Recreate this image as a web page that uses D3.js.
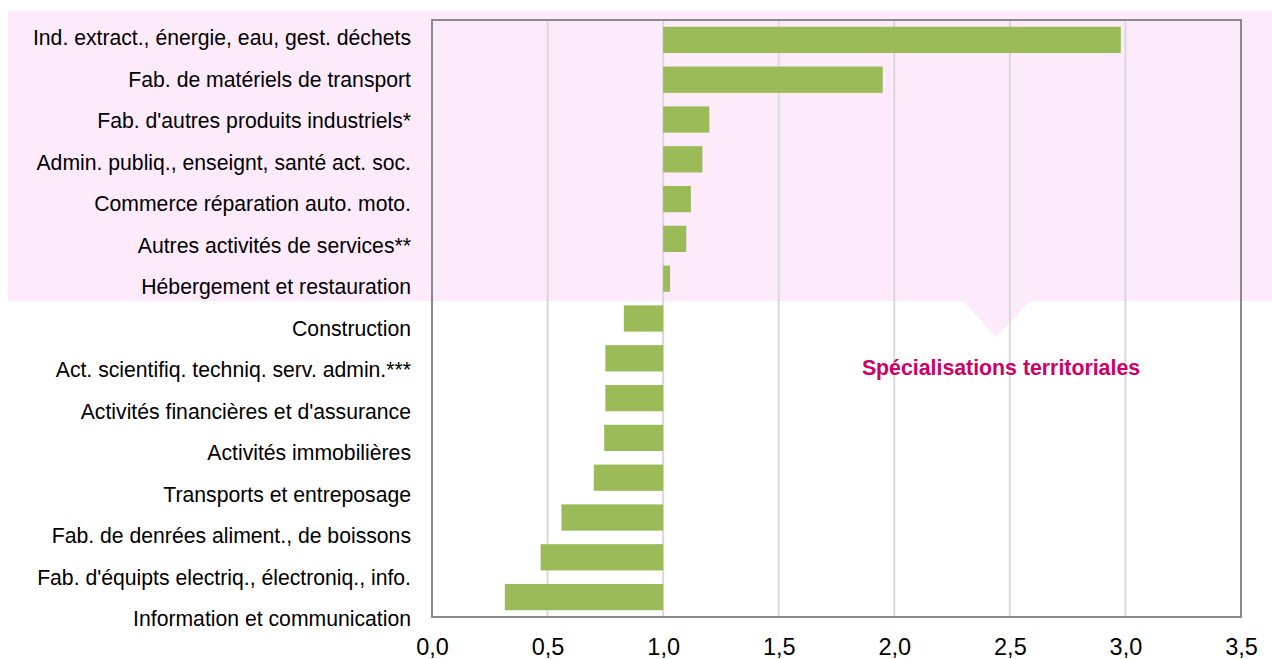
<!DOCTYPE html>
<html><head><meta charset="utf-8">
<script src="https://cdn.jsdelivr.net/npm/d3@7"></script>
<style>body{margin:0;background:#fff}svg{display:block}</style>
</head><body>
<svg id="c" width="1272" height="659"></svg>
<script>
const categories = [
  "Ind. extract., énergie, eau, gest. déchets",
  "Fab. de matériels de transport",
  "Fab. d'autres produits industriels*",
  "Admin. publiq., enseignt, santé act. soc.",
  "Commerce réparation auto. moto.",
  "Autres activités de services**",
  "Hébergement et restauration",
  "Construction",
  "Act. scientifiq. techniq. serv. admin.***",
  "Activités financières et d'assurance",
  "Activités immobilières",
  "Transports et entreposage",
  "Fab. de denrées aliment., de boissons",
  "Fab. d'équipts electriq., électroniq., info.",
  "Information et communication"
];
const values = [2.98, 1.95, 1.20, 1.17, 1.12, 1.10, 1.03, 0.83, 0.75, 0.75, 0.745, 0.70, 0.56, 0.47, 0.315];
const xTicks = [0, 0.5, 1, 1.5, 2, 2.5, 3, 3.5];
const baseline = 1.0;
const annotation = "Spécialisations territoriales";

const svg = d3.select("#c");
const L = 432, R = 1241, T = 20, B = 617;
const x = d3.scaleLinear().domain([0, 3.5]).range([L, R]);
const y = d3.scaleBand().domain(categories).range([T, B]).paddingInner(0.34).paddingOuter(0.17);
const yLab = d3.scalePoint().domain(categories).range([38, 619]);

// pink highlight with callout
const pinkBottom = 301;
svg.append("path")
  .attr("d", `M8,11 H1272 V${pinkBottom} H1030 L996,337 L963,${pinkBottom} H8 Z`)
  .attr("fill", "#fdebfc");

// gridlines
svg.append("g").selectAll("line").data(xTicks.slice(1, -1)).join("line")
  .attr("x1", d => x(d)).attr("x2", d => x(d)).attr("y1", T).attr("y2", B)
  .attr("stroke", "#d9d9d9").attr("stroke-width", 2);

// bars
svg.append("g").selectAll("rect").data(values).join("rect")
  .attr("x", d => x(Math.min(d, baseline)))
  .attr("width", d => Math.abs(x(d) - x(baseline)))
  .attr("y", (d, i) => y(categories[i]))
  .attr("height", y.bandwidth())
  .attr("fill", "#9bbb59");

// frame
svg.append("rect").attr("x", L).attr("y", T).attr("width", R - L).attr("height", B - T)
  .attr("fill", "none").attr("stroke", "#8a8a8a").attr("stroke-width", 2);

// category labels
svg.append("g").selectAll("text").data(categories).join("text")
  .attr("x", 411).attr("y", d => yLab(d)).attr("dy", "0.35em")
  .attr("text-anchor", "end")
  .attr("font-family", "Liberation Sans, Arial, sans-serif").attr("font-size", 21.2)
  .attr("fill", "#000").text(d => d);

// x axis
const xAxis = d3.axisBottom(x).tickValues(xTicks).tickSize(0).tickFormat(d => d3.format(".1f")(d).replace(".", ","));
const ga = svg.append("g").attr("transform", `translate(0,${B})`).call(xAxis);
ga.select(".domain").remove();
ga.selectAll("text").attr("font-family", "Liberation Sans, Arial, sans-serif").attr("font-size", 23.5)
  .attr("fill", "#000").attr("dy", "0").attr("y", 38);

// annotation
svg.append("text").attr("x", 1001).attr("y", 375).attr("text-anchor", "middle")
  .attr("font-family", "Liberation Sans, Arial, sans-serif").attr("font-weight", "bold")
  .attr("font-size", 21.3).attr("fill", "#cc0066").text(annotation);
</script>
</body></html>
